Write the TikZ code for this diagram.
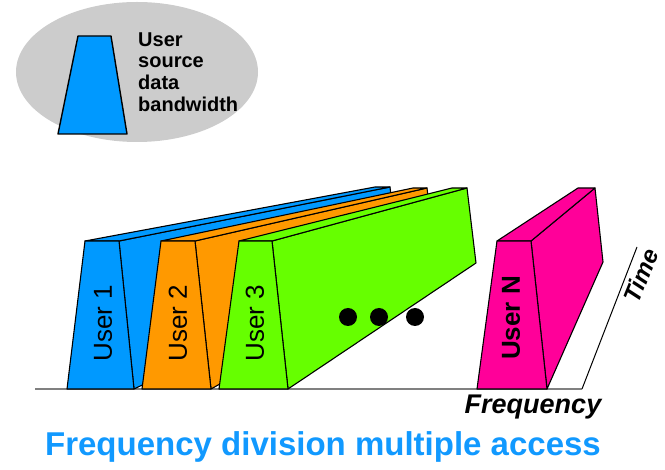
\documentclass[tikz,border=0pt]{standalone}
\usepackage{fontspec}
\setmainfont{Liberation Sans}
\definecolor{ublue}{HTML}{0099FF}
\definecolor{uorange}{HTML}{FF9900}
\definecolor{ugreen}{HTML}{66FF00}
\definecolor{upink}{HTML}{FF0099}
\definecolor{ellgray}{HTML}{CCCCCC}
\definecolor{axisgray}{HTML}{808080}
\definecolor{titleblue}{HTML}{1199FF}
\begin{document}
\begin{tikzpicture}[x=1pt,y=-1pt,
  face/.style={draw=black,line width=1.1pt,line join=round},
  userlabel/.style={rotate=90,inner sep=0pt,font=\fontsize{26}{28}\selectfont},
  legendtext/.style={anchor=base west,inner sep=0pt,font=\bfseries\fontsize{20}{22}\selectfont},
  axislabel/.style={inner sep=0pt,font=\bfseries\itshape\fontsize{27}{29}\selectfont},
  dot/.style={fill=black}]
\useasboundingbox (0,0) rectangle (665,470);

% legend: grey ellipse with one bandwidth trapezoid
\fill[ellgray] (137,72) ellipse [x radius=121, y radius=70];
\filldraw[face,line width=1.4pt,fill=ublue] (58,134) -- (78,36) -- (111,36) -- (127,134) -- cycle;
\node[legendtext] (leg1) at (138,47) {User};
\node[legendtext] (leg2) at (138,68) {source};
\node[legendtext] (leg3) at (138,90) {data};
\node[legendtext] (leg4) at (138,112) {bandwidth};

% frequency and time axes
\coordinate (origin) at (582,389);
\coordinate (fstart) at (35,389);
\coordinate (tend) at (637,247);
\draw[axisgray,line width=1.8pt] (fstart) -- (origin);
\draw[black,line width=1pt] (origin) -- (tend);

% user 1 (blue)
\filldraw[face,fill=ublue] (119,241) -- (390,187) -- (399,262) -- (134,389) -- cycle;
\filldraw[face,fill=ublue] (85,241) -- (375,187) -- (390,187) -- (119,241) -- cycle;
\filldraw[face,fill=ublue] (67,389) -- (85,241) -- (119,241) -- (134,389) -- cycle;

% user 2 (orange)
\filldraw[face,fill=uorange] (195,241) -- (427,188) -- (436,262) -- (211,389) -- cycle;
\filldraw[face,fill=uorange] (161,241) -- (413,188) -- (427,188) -- (195,241) -- cycle;
\filldraw[face,fill=uorange] (142,389) -- (161,241) -- (195,241) -- (211,389) -- cycle;

% user 3 (green)
\filldraw[face,fill=ugreen] (272,241) -- (467,188) -- (476,263) -- (288,389) -- cycle;
\filldraw[face,fill=ugreen] (239,241) -- (452,188) -- (467,188) -- (272,241) -- cycle;
\filldraw[face,fill=ugreen] (219,389) -- (239,241) -- (272,241) -- (288,389) -- cycle;

% user N (magenta)
\filldraw[face,fill=upink] (531,241) -- (595,188) -- (603,262) -- (547,389) -- cycle;
\filldraw[face,fill=upink] (497,241) -- (578,188) -- (595,188) -- (531,241) -- cycle;
\filldraw[face,fill=upink] (477,389) -- (497,241) -- (531,241) -- (547,389) -- cycle;

% ellipsis dots
\fill[dot] (348,317) circle (9);
\fill[dot] (379,317) circle (9);
\fill[dot] (415,317) circle (9);

% channel labels
\node[userlabel] (u1) at (103,323) {User 1};
\node[userlabel] (u2) at (178,323) {User 2};
\node[userlabel] (u3) at (255,323) {User 3};
\node[userlabel,font=\bfseries\fontsize{26}{28}\selectfont] (un) at (511,318) {User N};

% axis labels
\node[axislabel] (freq) at (533,407) {Frequency};
\node[axislabel,font=\bfseries\itshape\fontsize{24}{26}\selectfont,rotate=68] (time) at (641,276) {Time};

% caption
\node[inner sep=0pt,text=titleblue,font=\bfseries\fontsize{33}{36}\selectfont] (title) at (323,447) {Frequency division multiple access};
\end{tikzpicture}
\end{document}
